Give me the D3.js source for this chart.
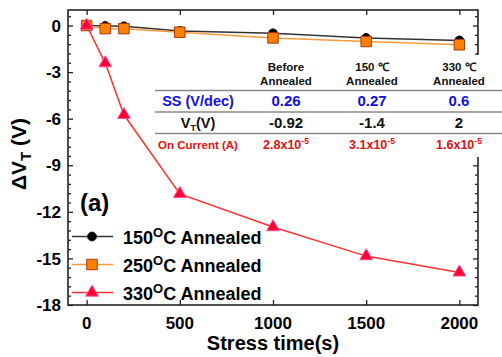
<!DOCTYPE html>
<html>
<head>
<meta charset="utf-8">
<script src="https://cdn.jsdelivr.net/npm/d3@7"></script>
<style>
  body { margin: 0; background: #fff; }
  svg { font-family: "Liberation Sans", Arial, sans-serif; font-weight: bold; }
</style>
</head>
<body>
<script>
// stress time (s)
const times = [0, 100, 200, 500, 1000, 1500, 2000];
const series150 = [0, -0.03, -0.05, -0.35, -0.5, -0.8, -0.96];
const series250 = [0, -0.2, -0.2, -0.43, -0.8, -1.03, -1.24];
const series330 = [0, -2.42, -5.75, -10.84, -12.98, -14.85, -15.9];
const seriesNames = ['150', '250', '330'];
const xTicks = [0, 500, 1000, 1500, 2000];
const yTicks = [0, -3, -6, -9, -12, -15, -18];

// inset table
const colHeads = [['Before', 'Annealed'], ['150 \u2103', 'Annealed'], ['330 \u2103', 'Annealed']];
const ssVals = ['0.26', '0.27', '0.6'];
const vtVals = ['-0.92', '-1.4', '2'];
const onMant = ['2.8', '3.1', '1.6'];

const W = 502, H = 357;
const m = { left: 68, top: 10, right: 24, bottom: 52 };

const svg = d3.select('body').append('svg').attr('width', W).attr('height', H);

const x = d3.scaleLinear().domain([-100, 2100]).range([m.left, W - m.right]);
const y = d3.scaleLinear().domain([-18, 1]).range([H - m.bottom, m.top]);

const minorY = d3.range(-18, 1, 0.6).filter(v => Math.abs(v % 3) > 0.01 && Math.abs(v % 3) < 2.99);

// axes, ticks inward
function yAxis(gen, tx) {
  svg.append('g').attr('transform', `translate(${tx},0)`).call(gen)
    .call(g => g.select('.domain').remove());
}
yAxis(d3.axisRight(y).tickValues(yTicks).tickSize(5).tickFormat(''), m.left);
yAxis(d3.axisRight(y).tickValues(minorY).tickSize(3).tickFormat(''), m.left);
yAxis(d3.axisLeft(y).tickValues(yTicks).tickSize(5).tickFormat(''), W - m.right);
yAxis(d3.axisLeft(y).tickValues(minorY).tickSize(3).tickFormat(''), W - m.right);
svg.append('g').attr('transform', `translate(0,${H - m.bottom})`)
  .call(d3.axisTop(x).tickValues(xTicks).tickSize(5).tickFormat(''))
  .call(g => g.select('.domain').remove());
svg.append('g').attr('transform', `translate(0,${m.top})`)
  .call(d3.axisBottom(x).tickValues(xTicks).tickSize(5).tickFormat(''))
  .call(g => g.select('.domain').remove());
svg.selectAll('.tick line').attr('stroke', '#222').attr('stroke-width', 1.3);

svg.append('rect')
  .attr('x', m.left).attr('y', m.top)
  .attr('width', W - m.left - m.right).attr('height', H - m.top - m.bottom)
  .attr('fill', 'none').attr('stroke', '#222').attr('stroke-width', 1.6);

// tick labels
svg.append('g').selectAll('text').data(yTicks).join('text')
  .attr('x', m.left - 7).attr('y', d => y(d)).attr('dy', '0.36em')
  .attr('text-anchor', 'end').attr('font-size', 17).text(d => d);
svg.append('g').selectAll('text').data(xTicks).join('text')
  .attr('x', d => x(d)).attr('y', H - m.bottom + 24)
  .attr('text-anchor', 'middle').attr('font-size', 17).text(d => d);

// axis titles
svg.append('text').attr('x', x(1000)).attr('y', 350)
  .attr('text-anchor', 'middle').attr('font-size', 20).text('Stress time(s)');
const yl = svg.append('text').attr('transform', 'translate(26,154) rotate(-90)')
  .attr('text-anchor', 'middle').attr('font-size', 21);
yl.append('tspan').text('\u0394V');
yl.append('tspan').attr('font-size', 15).attr('dy', 5).text('T');
yl.append('tspan').attr('dy', -5).text(' (V)');

svg.append('text').attr('x', 80).attr('y', 211).attr('font-size', 24).text('(a)');

// series
const styles = [
  { data: series150, line: '#333', fill: '#000', stroke: '#000', shape: d3.symbolCircle, size: 60 },
  { data: series250, line: '#ff9a3c', fill: '#ff7f00', stroke: '#a83a10', shape: d3.symbolSquare, size: 110 },
  { data: series330, line: '#ff3030', fill: '#ff0030', stroke: '#ff4da0', shape: d3.symbolTriangle, size: 70 }
];
const line = d3.line().x((d, i) => x(times[i])).y(d => y(d));
styles.forEach(s => {
  svg.append('path').datum(s.data).attr('d', line)
    .attr('fill', 'none').attr('stroke', s.line).attr('stroke-width', 1.5);
});
styles.forEach(s => {
  svg.append('g').selectAll('path').data(s.data).join('path')
    .attr('transform', (d, i) => `translate(${x(times[i])},${y(d)})`)
    .attr('d', d3.symbol(s.shape, s.size))
    .attr('fill', s.fill).attr('stroke', s.stroke).attr('stroke-width', 1);
});

// legend
const legY = [236.5, 264.5, 292.5];
styles.forEach((s, i) => {
  const g = svg.append('g').attr('transform', `translate(0,${legY[i]})`);
  g.append('line').attr('x1', 72).attr('x2', 113).attr('stroke', s.line).attr('stroke-width', 1.5);
  g.append('path').attr('transform', 'translate(92,0)').attr('d', d3.symbol(s.shape, s.size))
    .attr('fill', s.fill).attr('stroke', s.stroke);
  const t = g.append('text').attr('x', 123).attr('y', 7).attr('font-size', 18);
  t.append('tspan').text(seriesNames[i]);
  t.append('tspan').attr('font-size', 13).attr('dy', -7).text('O');
  t.append('tspan').attr('dy', 7).text('C Annealed');
});

// table (white box over the plot)
svg.append('rect').attr('x', 155).attr('y', 55).attr('width', W - 155).attr('height', 102)
  .attr('fill', '#fff');
const colX = [286, 372, 459];
const rowLines = [90.5, 112, 133.5];
svg.append('g').selectAll('line').data(rowLines).join('line')
  .attr('x1', 155).attr('x2', W).attr('y1', d => d).attr('y2', d => d)
  .attr('stroke', '#888').attr('stroke-width', 1.5);
colHeads.forEach((h, i) => {
  h.forEach((t, j) => {
    svg.append('text').attr('x', colX[i]).attr('y', 71 + j * 14)
      .attr('text-anchor', 'middle').attr('font-size', 11.5).attr('fill', '#111').text(t);
  });
});
svg.append('text').attr('x', 198).attr('y', 106).attr('text-anchor', 'middle')
  .attr('font-size', 14.5).attr('fill', '#1010e0').text('SS (V/dec)');
const vt = svg.append('text').attr('x', 198).attr('y', 128).attr('text-anchor', 'middle')
  .attr('font-size', 14.5).attr('fill', '#111');
vt.append('tspan').text('V');
vt.append('tspan').attr('font-size', 9).attr('dy', 3).text('T');
vt.append('tspan').attr('dy', -3).text('(V)');
svg.append('text').attr('x', 198).attr('y', 148.5).attr('text-anchor', 'middle')
  .attr('font-size', 11.5).attr('fill', '#e01010').text('On Current (A)');
colX.forEach((cx, i) => {
  svg.append('text').attr('x', cx).attr('y', 106).attr('text-anchor', 'middle')
    .attr('font-size', 15).attr('fill', '#1010e0').text(ssVals[i]);
  svg.append('text').attr('x', cx).attr('y', 128).attr('text-anchor', 'middle')
    .attr('font-size', 15).attr('fill', '#111').text(vtVals[i]);
  const oc = svg.append('text').attr('x', cx).attr('y', 148.5).attr('text-anchor', 'middle')
    .attr('font-size', 12.5).attr('fill', '#e01010');
  oc.append('tspan').text(onMant[i] + 'x10');
  oc.append('tspan').attr('font-size', 8.5).attr('dy', -5).text('-5');
});
</script>
</body>
</html>
